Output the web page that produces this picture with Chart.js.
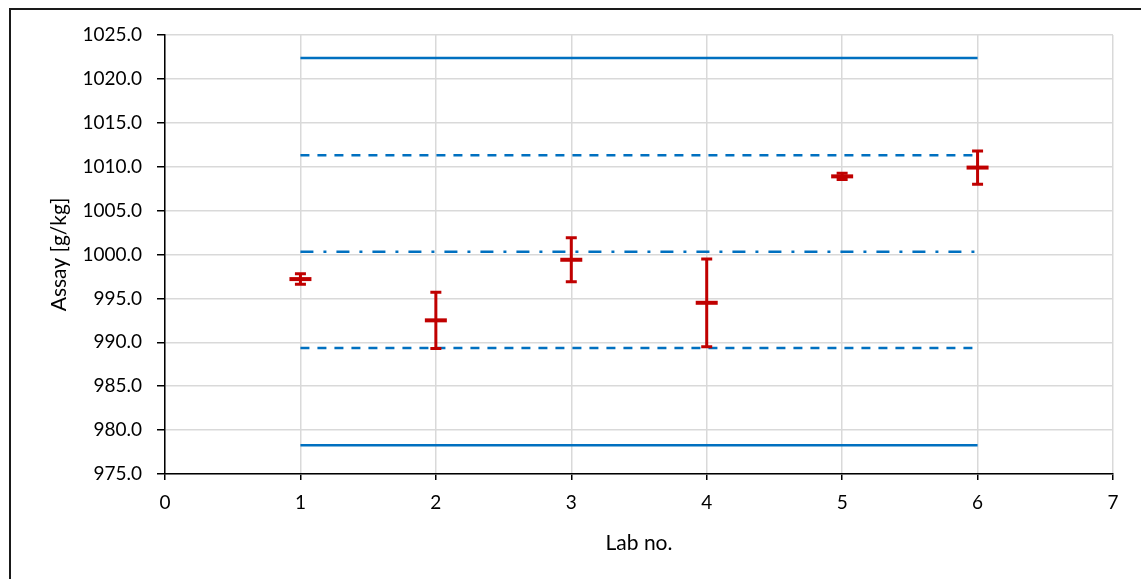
<!DOCTYPE html>
<html>
<head>
<meta charset="utf-8">
<script src="https://cdn.jsdelivr.net/npm/chart.js@4.4.0/dist/chart.umd.min.js"></script>
<style>
    html, body { margin: 0; padding: 0; background: #fff; }
    #wrap { position: relative; width: 1141px; height: 579px; }
    #frame {
        position: absolute; left: 9px; top: 8px; right: -4px; bottom: -4px;
        border-top: 2px solid #1a1a1a; border-left: 2px solid #1a1a1a;
        pointer-events: none;
    }
    canvas { position: absolute; left: 0; top: 0; }
</style>
</head>
<body>
<div id="wrap">
    <canvas id="chart" width="1141" height="579"></canvas>
    <div id="frame"></div>
</div>
<script>
const LAB_NO = [1, 2, 3, 4, 5, 6];
const ASSAY = [997.2, 992.5, 999.4, 994.5, 1008.9, 1009.9];
const ASSAY_ERR = [0.6, 3.2, 2.5, 5.0, 0.35, 1.9];

const MEAN = 1000.32;
const INNER_LIMITS = [989.35, 1011.29];
const OUTER_LIMITS = [978.27, 1022.37];

const Y_MIN = 975, Y_MAX = 1025, Y_STEP = 5;
const X_MIN = 0, X_MAX = 7;

const RED = '#C00000';
const BLUE = '#0070C0';
const GRID = '#d9d9d9';
const TICK_FONT = { family: 'Lato', size: 19 };
const TITLE_FONT = { family: 'Lato', size: 21 };

const xFirst = LAB_NO[0];
const xLast = LAB_NO[LAB_NO.length - 1];
const hline = y => [{ x: xFirst, y }, { x: xLast, y }];

const refLine = (y, dash, width) => ({
    type: 'line',
    data: hline(y),
    borderColor: BLUE,
    borderWidth: width,
    borderDash: dash,
    borderCapStyle: 'butt',
    pointRadius: 0,
    fill: false,
    order: 2,
});

// vertical error bars with caps, placed through the chart scales
const errorBars = {
    id: 'errorBars',
    afterDatasetsDraw(chart) {
        const { ctx, scales: { x, y } } = chart;
        ctx.save();
        ctx.strokeStyle = RED;
        ctx.lineWidth = 3;
        ctx.lineCap = 'butt';
        LAB_NO.forEach((lab, i) => {
            const px = x.getPixelForValue(lab);
            const top = y.getPixelForValue(ASSAY[i] + ASSAY_ERR[i]);
            const bot = y.getPixelForValue(ASSAY[i] - ASSAY_ERR[i]);
            ctx.beginPath();
            ctx.moveTo(px, top); ctx.lineTo(px, bot);
            ctx.moveTo(px - 5.5, top); ctx.lineTo(px + 5.5, top);
            ctx.moveTo(px - 5.5, bot); ctx.lineTo(px + 5.5, bot);
            ctx.stroke();
        });
        ctx.restore();
    },
};

new Chart(document.getElementById('chart'), {
    type: 'scatter',
    data: {
        datasets: [
            refLine(OUTER_LIMITS[1], [], 2.5),
            refLine(INNER_LIMITS[1], [9, 8], 2.5),
            refLine(MEAN, [13, 10, 3, 10], 2.5),
            refLine(INNER_LIMITS[0], [9, 8], 2.5),
            refLine(OUTER_LIMITS[0], [], 2.5),
            {
                label: 'Assay',
                data: LAB_NO.map((x, i) => ({ x, y: ASSAY[i] })),
                pointStyle: 'line',
                pointRadius: 11,
                pointBorderWidth: 4,
                borderColor: RED,
                backgroundColor: RED,
                showLine: false,
                order: 1,
            },
        ],
    },
    options: {
        responsive: false,
        animation: false,
        layout: { padding: { left: 0, top: 35, right: 28, bottom: 0 } },
        plugins: {
            legend: { display: false },
            tooltip: { enabled: false },
        },
        scales: {
            x: {
                type: 'linear',
                min: X_MIN,
                max: X_MAX,
                afterFit: s => { s.height = 105; },
                ticks: { stepSize: 1, font: TICK_FONT, color: '#000', padding: 11 },
                grid: { color: GRID, lineWidth: 1.5, tickLength: 6, tickColor: '#000', tickWidth: 1.5 },
                border: { color: '#000', width: 1.5 },
                title: {
                    display: true,
                    text: 'Lab no.',
                    font: TITLE_FONT,
                    color: '#000',
                    padding: { top: 0, bottom: 23 },
                },
            },
            y: {
                min: Y_MIN,
                max: Y_MAX,
                afterFit: s => { s.width = 165; },
                ticks: {
                    stepSize: Y_STEP,
                    font: TICK_FONT,
                    color: '#000',
                    padding: 15,
                    callback: v => v.toFixed(1),
                },
                grid: { color: GRID, lineWidth: 1.5, tickLength: 8, tickColor: '#000', tickWidth: 1.5 },
                border: { color: '#000', width: 1.5 },
                title: {
                    display: true,
                    text: 'Assay [g/kg]',
                    font: TITLE_FONT,
                    color: '#000',
                    padding: { top: 47, bottom: 0 },
                },
            },
        },
    },
    plugins: [errorBars],
});
</script>
</body>
</html>
